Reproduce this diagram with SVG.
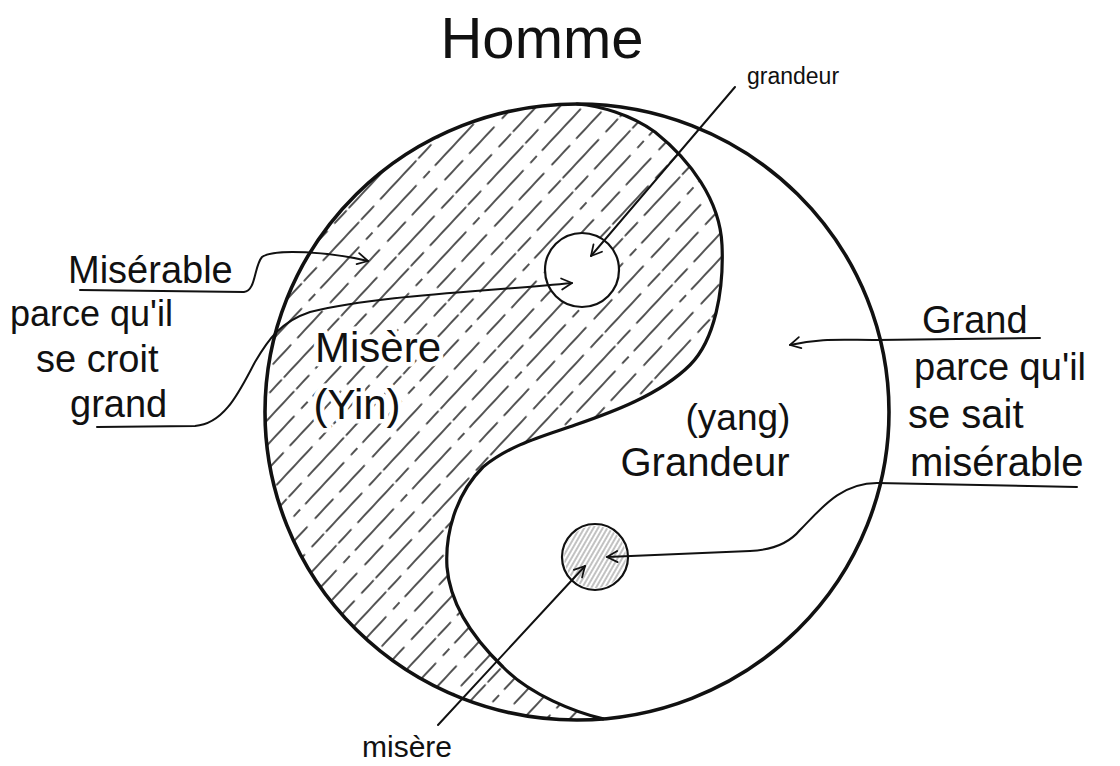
<svg xmlns="http://www.w3.org/2000/svg" width="1120" height="766" viewBox="0 0 1120 766">
<style>
.t{font-family:"Liberation Sans","DejaVu Sans",sans-serif;fill:#111}
.c{fill:none;stroke:#111;stroke-width:2;stroke-linecap:round;stroke-linejoin:round}
.halo{stroke:#fff;stroke-width:9;paint-order:stroke;stroke-linejoin:round}
.h{stroke:#1a1a1a;stroke-width:1.5;stroke-linecap:round}
</style>
<defs>
<marker id="arr" viewBox="0 0 20 20" refX="18" refY="10" markerWidth="16" markerHeight="16" orient="auto" markerUnits="userSpaceOnUse">
<path d="M5 3 L18 10 L5 17" fill="none" stroke="#111" stroke-width="2.2" stroke-linecap="round" stroke-linejoin="round"/>
</marker>
<pattern id="hatch" patternUnits="userSpaceOnUse" width="68" height="84" patternTransform="rotate(43)">
<line class="h" x1="6" y1="2" x2="6" y2="54"/>
<line class="h" x1="6" y1="64" x2="6" y2="82"/>
<line class="h" x1="23" y1="20" x2="23" y2="76"/>
<line class="h" x1="23" y1="0" x2="23" y2="9"/>
<line class="h" x1="40" y1="8" x2="40" y2="44"/>
<line class="h" x1="40" y1="54" x2="40" y2="80"/>
<line class="h" x1="57" y1="30" x2="57" y2="82"/>
<line class="h" x1="57" y1="2" x2="57" y2="19"/>
</pattern>
<pattern id="hatchg" patternUnits="userSpaceOnUse" width="4" height="10" patternTransform="rotate(30)">
<line x1="2" y1="0" x2="2" y2="10" stroke="#999" stroke-width="1.2"/>
</pattern>
<path id="yinShape" d="M577 104 A312 308 0 1 0 603 718.9 C575 712 530 695 503 667 C475 640 450 605 447 567 C445 535 455 495 483 467 C510 445 540 437 575 425 C610 413 660 395 690 365 C715 340 724 290 722 245 C720 200 690 160 655 132 C630 114 600 106 577 104 Z"/>
</defs>

<g id="yin-yang">
<ellipse cx="577" cy="412" rx="312" ry="308" fill="#fff" stroke="none"/>
<use href="#yinShape" fill="url(#hatch)"/>
<path d="M603 718.9 C575 712 530 695 503 667 C475 640 450 605 447 567 C445 535 455 495 483 467 C510 445 540 437 575 425 C610 413 660 395 690 365 C715 340 724 290 722 245 C720 200 690 160 655 132 C630 114 600 106 577 104" fill="none" stroke="#111" stroke-width="3.2" stroke-linecap="round"/>
<ellipse cx="577" cy="412" rx="312" ry="308" fill="none" stroke="#111" stroke-width="3.6"/>
</g>

<g id="eye-top">
<circle cx="582" cy="270" r="37" fill="#fff" stroke="#111" stroke-width="2.2"/>
</g>
<g id="eye-bottom">
<circle cx="595" cy="557" r="33" fill="#fff" stroke="#111" stroke-width="2.2"/>
<circle cx="595" cy="557" r="31" fill="url(#hatchg)"/>
</g>

<g id="label-homme"><text class="t" x="542" y="58" font-size="58" text-anchor="middle">Homme</text></g>
<g id="label-misere-in">
<text class="t halo" x="378" y="362" font-size="42" text-anchor="middle">Misère</text>
<text class="t halo" x="357" y="419" font-size="42" text-anchor="middle">(Yin)</text>
</g>
<g id="label-grandeur-in">
<text class="t" x="738" y="430" font-size="37" text-anchor="middle">(yang)</text>
<text class="t" x="705" y="476" font-size="40" text-anchor="middle">Grandeur</text>
</g>
<g id="label-grandeur-top"><text class="t" x="747" y="84" font-size="23">grandeur</text></g>
<g id="label-misere-bottom"><text class="t" x="362" y="757" font-size="30">misère</text></g>
<g id="label-left">
<text class="t" x="68" y="283" font-size="38">Misérable</text>
<text class="t" x="10" y="326" font-size="36">parce qu'il</text>
<text class="t" x="36" y="372" font-size="38">se croit</text>
<text class="t" x="70" y="417" font-size="38">grand</text>
</g>
<g id="label-right">
<text class="t" x="922" y="333" font-size="38">Grand</text>
<text class="t" x="914" y="380" font-size="38">parce qu'il</text>
<text class="t" x="908" y="428" font-size="40">se sait</text>
<text class="t" x="910" y="476" font-size="40">misérable</text>
</g>

<g id="connectors">
<path class="c" d="M80 290 L244 292 C256 291 254 266 262 257 C275 248 330 252 368 261" marker-end="url(#arr)"/>
<path class="c" d="M97 427 L195 426 C225 424 240 390 255 362 C268 340 280 322 310 312 C380 295 480 292 572 283" marker-end="url(#arr)"/>
<path class="c" d="M735 87 L591 256" marker-end="url(#arr)"/>
<path class="c" d="M438 725 L585 566" marker-end="url(#arr)"/>
<path class="c" d="M1040 338 L877 340 C840 340 820 338 790 345" marker-end="url(#arr)"/>
<path class="c" d="M1077 487 L877 483 C840 483 820 510 800 530 C790 542 775 550 750 551 L607 557" marker-end="url(#arr)"/>
</g>
</svg>
